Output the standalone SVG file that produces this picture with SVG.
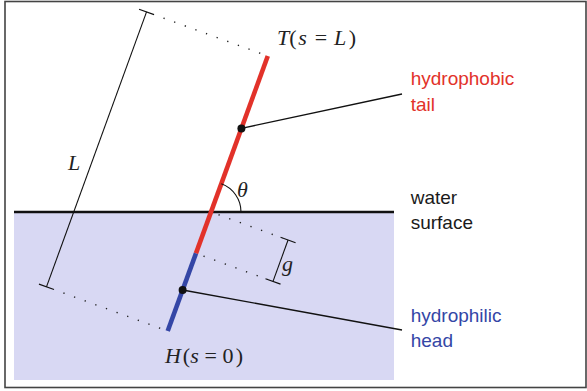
<svg xmlns="http://www.w3.org/2000/svg" width="587" height="391" viewBox="0 0 587 391">
<style>
.dim{stroke:#111;stroke-width:1.1;fill:none}
.dot{stroke:#222;stroke-width:1.4;stroke-dasharray:1.3 10;fill:none}
.lead{stroke:#111;stroke-width:1.3;fill:none}
.math{font-family:"Liberation Serif",serif;font-size:22px;fill:#222}
.math .i{font-style:italic}
.lbl{font-family:"Liberation Sans",Arial,sans-serif;font-size:19px}
</style>
<rect x="5" y="1.5" width="581" height="386" fill="#fff" stroke="#444" stroke-width="1.6"/>
<g id="water">
<rect x="14" y="212" width="380" height="168" fill="#d8d8f3"/>
<line x1="14" y1="212" x2="394" y2="212" stroke="#111" stroke-width="2.6"/>
</g>
<g id="molecule" transform="translate(211 212) rotate(-70)">
<line x1="-44" y1="0" x2="166" y2="0" stroke="#e2322a" stroke-width="4.6"/>
<line x1="-126.6" y1="0" x2="-44" y2="0" stroke="#3446a6" stroke-width="4.6"/>
</g>
<g id="dim-L" transform="translate(211 212) rotate(-70)">
<line class="dot" x1="166" y1="-8" x2="166" y2="-121"/>
<line class="dot" x1="-126.6" y1="-8" x2="-126.6" y2="-121"/>
<line class="dim" x1="166" y1="-129" x2="-126.6" y2="-129"/>
<line class="dim" x1="166" y1="-137" x2="166" y2="-121"/>
<line class="dim" x1="-126.6" y1="-137" x2="-126.6" y2="-121"/>
</g>
<g id="dim-g" transform="translate(211 212) rotate(-70)">
<line class="dot" x1="0" y1="8" x2="0" y2="76"/>
<line class="dot" x1="-44" y1="8" x2="-44" y2="76"/>
<line class="dim" x1="0" y1="82" x2="-44" y2="82"/>
<line class="dim" x1="0" y1="74" x2="0" y2="90"/>
<line class="dim" x1="-44" y1="74" x2="-44" y2="90"/>
</g>
<g id="angle">
<path class="dim" d="M241 212 A30 30 0 0 0 221.3 183.8"/>
</g>
<g id="connectors">
<line class="lead" x1="241.4" y1="128.4" x2="402" y2="94"/>
<line class="lead" x1="182.6" y1="290" x2="402" y2="330"/>
<circle cx="241.4" cy="128.4" r="4" fill="#111"/>
<circle cx="182.6" cy="290" r="4" fill="#111"/>
</g>
<g id="math-labels" class="math" text-anchor="middle">
<text><tspan class="i" x="283" y="44.5">T</tspan><tspan x="293" y="44.5">(</tspan><tspan class="i" x="302.5" y="44.5">s</tspan><tspan x="321" y="44.5">=</tspan><tspan class="i" x="340" y="44.5">L</tspan><tspan x="352.5" y="44.5">)</tspan></text>
<text><tspan class="i" x="173" y="363.3">H</tspan><tspan x="186.5" y="363.3">(</tspan><tspan class="i" x="194.5" y="363.3">s</tspan><tspan x="210.8" y="363.3">=</tspan><tspan x="228" y="363.3">0</tspan><tspan x="239.5" y="363.3">)</tspan></text>
<text class="i" x="74" y="170">L</text>
<text class="i" x="242.5" y="196.7">θ</text>
<text class="i" x="287.5" y="271">g</text>
</g>
<g id="tail-label" class="lbl" fill="#e2322a">
<text x="410.7" y="85">hydrophobic</text>
<text x="410.7" y="111">tail</text>
</g>
<g id="surface-label" class="lbl" fill="#1a1a1a">
<text x="410.7" y="204">water</text>
<text x="410.7" y="229">surface</text>
</g>
<g id="head-label" class="lbl" fill="#3446a6">
<text x="410.7" y="322">hydrophilic</text>
<text x="410.7" y="347">head</text>
</g>
</svg>
